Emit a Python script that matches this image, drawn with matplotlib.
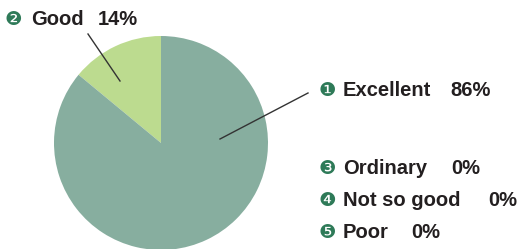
import matplotlib.pyplot as plt

labels = ["Excellent", "Good", "Ordinary", "Not so good", "Poor"]
values = [86, 14, 0, 0, 0]
marks = ["\u2776", "\u2777", "\u2778", "\u2779", "\u277a"]

slice_colors = ["#87ae9f", "#bcdb8f"]
mark_color = "#2e7a58"
text_color = "#231f20"

W, H = 521, 249
fig = plt.figure(figsize=(W / 100, H / 100), dpi=100)
ax = fig.add_axes([0, 0, 1, 1])
ax.set_xlim(0, W)
ax.set_ylim(0, H)
ax.set_aspect("equal")
ax.axis("off")

# pixel coords below are measured top-down, flip them
def fy(y):
    return H - y

# only the non-zero slices are drawn, Good goes first from the top
ax.pie([values[1], values[0]], colors=[slice_colors[1], slice_colors[0]],
       startangle=90, counterclock=True, center=(161, fy(143)), radius=107,
       wedgeprops=dict(linewidth=0))
ax.set_xlim(0, W)
ax.set_ylim(0, H)

# leader lines
ax.plot([88, 120], [fy(34), fy(81)], color="#333333", lw=1)
ax.plot([220, 308], [fy(139), fy(93)], color="#333333", lw=1)

font = dict(family="Liberation Sans", weight="bold", size=14.5, color=text_color)

# x of mark, label, percent and y centre, in reference pixels
def label(xm, xl, xp, y, i):
    ax.text(xm, fy(y), marks[i], family="DejaVu Sans", size=14, color=mark_color,
            va="center", ha="center")
    ax.text(xl, fy(y), labels[i], va="center", ha="left", **font)
    ax.text(xp, fy(y), "%d%%" % values[i], va="center", ha="left", **font)

label(13, 31, 98, 19, 1)
label(327, 343, 450, 90, 0)
label(327, 343, 451, 168, 2)
label(327, 343, 488, 200, 3)
label(327, 343, 411, 232, 4)

fig.savefig("out.png", dpi=100)
